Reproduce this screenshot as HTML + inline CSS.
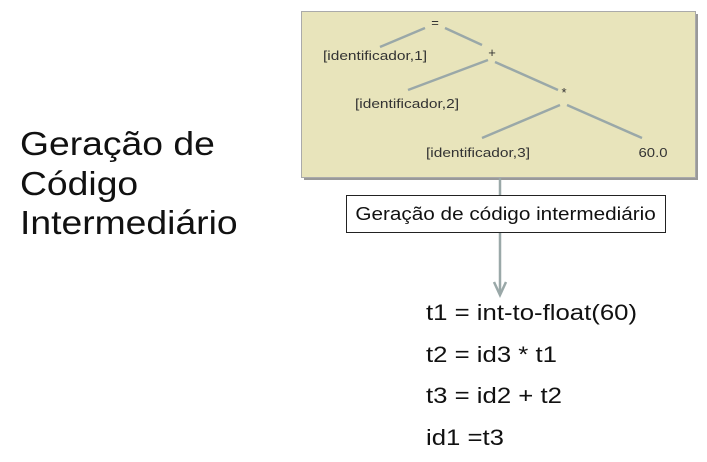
<!DOCTYPE html>
<html><head><style>
body{margin:0;width:707px;height:462px;background:#fff;position:relative;font-family:"Liberation Sans",sans-serif;overflow:hidden}
.t{position:absolute;white-space:nowrap}
</style></head><body>
<div class="t" style="left:20px;top:124px;font-size:33px;line-height:39.5px;color:#111;transform:scaleX(1.13);transform-origin:0 0">Geração de<br>Código<br>Intermediário</div>
<div style="position:absolute;left:304px;top:14px;width:394px;height:166px;background:#999"></div>
<div style="position:absolute;left:301px;top:11px;width:393px;height:165px;background:#e8e4bb;border:1px solid #aaa"></div>
<svg width="707" height="462" style="position:absolute;left:0;top:0">
<g stroke="#9aa8a8" stroke-width="2.5" fill="none">
<line x1="425" y1="28" x2="380" y2="47"/>
<line x1="445" y1="28" x2="482" y2="45"/>
<line x1="488" y1="60" x2="408" y2="90"/>
<line x1="495" y1="62" x2="558" y2="90"/>
<line x1="560" y1="105" x2="482" y2="138"/>
<line x1="567" y1="105" x2="642" y2="138"/>
<line x1="500" y1="178" x2="500" y2="292"/>
</g>
<path d="M494 282 L500 295 L506 282" stroke="#9aa8a8" stroke-width="2.5" fill="none"/>
<g font-family="Liberation Sans,sans-serif" font-size="13" fill="#333" text-anchor="middle">
<text x="435" y="27">=</text>
<text x="375" y="60" textLength="104" lengthAdjust="spacingAndGlyphs">[identificador,1]</text>
<text x="492" y="57">+</text>
<text x="407" y="108" textLength="104" lengthAdjust="spacingAndGlyphs">[identificador,2]</text>
<text x="564" y="97">*</text>
<text x="478" y="157" textLength="104" lengthAdjust="spacingAndGlyphs">[identificador,3]</text>
<text x="653" y="157" textLength="29" lengthAdjust="spacingAndGlyphs">60.0</text>
</g>
</svg>
<div class="t" style="left:346px;top:195px;width:318px;height:36px;border:1px solid #222;background:#fff;line-height:36px;text-align:center;color:#111"><span style="display:inline-block;font-size:18px;transform:scaleX(1.15)">Geração de código intermediário</span></div>
<div class="t" style="left:426px;top:292px;font-size:22px;line-height:41.5px;color:#111;transform:scaleX(1.17);transform-origin:0 0">t1 = int-to-float(60)<br>t2 = id3 * t1<br>t3 = id2 + t2<br>id1 =t3</div>
</body></html>
